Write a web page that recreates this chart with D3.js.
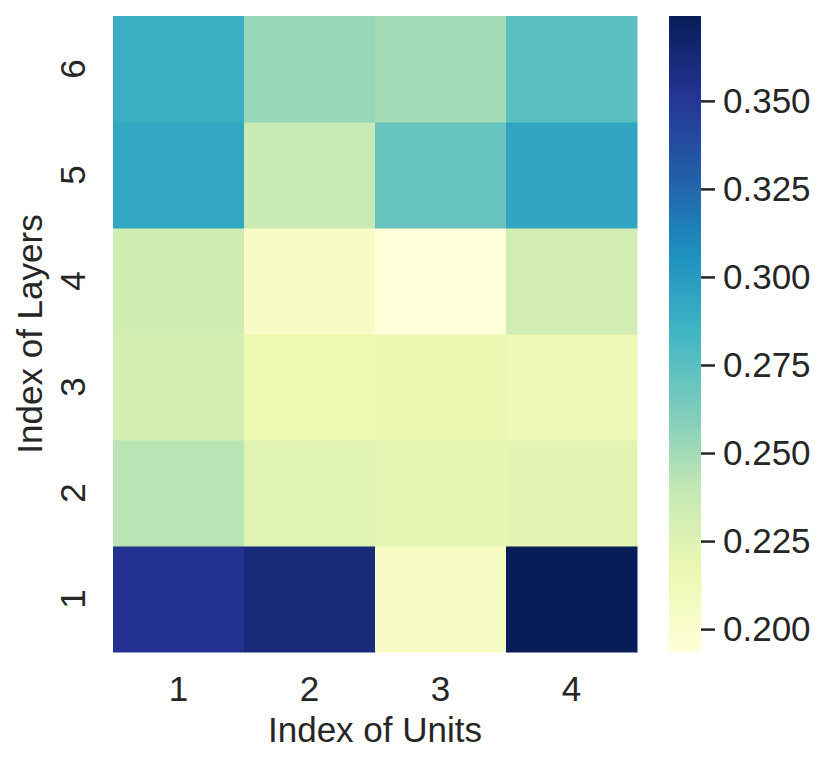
<!DOCTYPE html>
<html>
<head>
<meta charset="utf-8">
<script src="https://cdn.jsdelivr.net/npm/d3@7"></script>
<style>
  body { margin: 0; background: #fff; }
  text { font-family: "Liberation Sans", Arial, sans-serif; fill: #262626; }
</style>
</head>
<body>
<div id="chart"></div>
<script>
// heatmap values, rows = layers (1..6), cols = units (1..4)
var units = [1, 2, 3, 4]
var layers = [1, 2, 3, 4, 5, 6]
var values = [
  [0.353, 0.361, 0.205, 0.3741],   // layer 1
  [0.243, 0.223, 0.221, 0.222],    // layer 2
  [0.231, 0.216, 0.218, 0.213],    // layer 3
  [0.234, 0.204, 0.1935, 0.232],   // layer 4
  [0.293, 0.237, 0.270, 0.294],    // layer 5
  [0.288, 0.254, 0.2495, 0.275]    // layer 6
]
var cbarTicks = [0.200, 0.225, 0.250, 0.275, 0.300, 0.325, 0.350]
var ylgnbu = ['#ffffd9', '#edf8b1', '#c7e9b4', '#7fcdbb', '#41b6c4', '#1d91c0', '#225ea8', '#253494', '#081d58']

var W = 830, H = 766
var pLeft = 113, pRight = 637, pTop = 16, pBottom = 652
var cbX = 669, cbW = 32
var fs = '35px'

var vmin = d3.min(values.flat()), vmax = d3.max(values.flat())

var color = d3.scaleLinear()
  .domain(ylgnbu.map((c, i) => vmin + (vmax - vmin) * i / (ylgnbu.length - 1)))
  .range(ylgnbu)
  .interpolate(d3.interpolateRgb)

var x = d3.scaleBand().domain(units).range([pLeft, pRight])
var y = d3.scaleBand().domain(layers.slice().reverse()).range([pTop, pBottom])

var svg = d3.select('#chart').append('svg').attr('width', W).attr('height', H)

var cells = []
layers.forEach((l, i) => units.forEach((u, j) => cells.push({layer: l, unit: u, v: values[i][j]})))

svg.append('g').selectAll('rect')
  .data(cells)
  .enter()
    .append('rect')
    .attr('x', d => x(d.unit))
    .attr('y', d => y(d.layer))
    .attr('width', x.bandwidth() + 0.5)
    .attr('height', y.bandwidth() + 0.5)
    .style('fill', d => color(d.v))

// x tick labels
svg.append('g').selectAll('text')
  .data(units)
  .enter()
    .append('text')
    .attr('x', d => x(d) + x.bandwidth() / 2)
    .attr('y', 701)
    .attr('text-anchor', 'middle')
    .style('font-size', fs)
    .text(d => d)

// y tick labels (rotated)
svg.append('g').selectAll('text')
  .data(layers)
  .enter()
    .append('text')
    .attr('transform', d => 'translate(85,' + (y(d) + y.bandwidth() / 2) + ') rotate(-90)')
    .attr('text-anchor', 'middle')
    .style('font-size', fs)
    .text(d => d)

svg.append('text')
  .attr('x', (pLeft + pRight) / 2)
  .attr('y', 742)
  .attr('text-anchor', 'middle')
  .style('font-size', fs)
  .text('Index of Units')

svg.append('text')
  .attr('transform', 'translate(42,' + (pTop + pBottom) / 2 + ') rotate(-90)')
  .attr('text-anchor', 'middle')
  .style('font-size', fs)
  .text('Index of Layers')

// colorbar
var cb = d3.scaleLinear().domain([vmin, vmax]).range([pBottom, pTop])
var grad = svg.append('defs').append('linearGradient')
  .attr('id', 'cbgrad').attr('x1', 0).attr('y1', 1).attr('x2', 0).attr('y2', 0)
grad.selectAll('stop')
  .data(d3.range(0, 1.0001, 0.02))
  .enter()
    .append('stop')
    .attr('offset', d => d)
    .attr('stop-color', d => color(vmin + d * (vmax - vmin)))

svg.append('rect')
  .attr('x', cbX).attr('y', pTop)
  .attr('width', cbW).attr('height', pBottom - pTop)
  .style('fill', 'url(#cbgrad)')

var cbAxis = svg.append('g')
  .attr('transform', 'translate(' + (cbX + cbW) + ',0)')
  .call(d3.axisRight(cb).tickValues(cbarTicks).tickFormat(d3.format('.3f')).tickSize(14).tickPadding(8))
cbAxis.select('.domain').remove()
cbAxis.selectAll('line').attr('stroke', '#262626').attr('stroke-width', 2.5)
cbAxis.selectAll('text')
  .style('font-size', fs)
  .style('font-family', '"Liberation Sans", Arial, sans-serif')
  .attr('fill', '#262626')
</script>
</body>
</html>
